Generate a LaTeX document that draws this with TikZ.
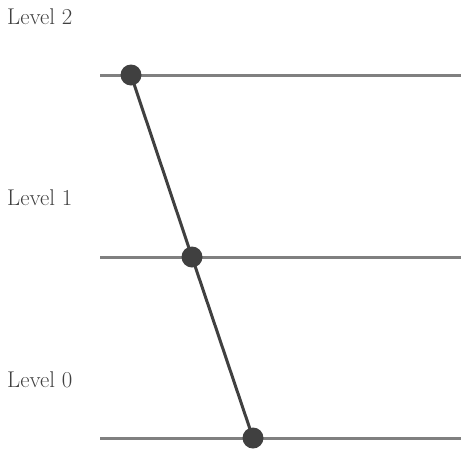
\documentclass[tikz,border=0pt]{standalone}
\begin{document}
\begin{tikzpicture}[x=1pt,y=-1pt,
  level/.style={draw=black!50,line width=3pt},
  link/.style={draw=black!75,line width=3pt},
  dot/.style={circle,fill=black!75,inner sep=0pt,minimum size=21pt},
  lbl/.style={anchor=west,inner sep=0pt,text=black!75,font=\fontsize{22.8}{26}\selectfont}]
\useasboundingbox (0,0) rectangle (461,448);
\node[lbl] (l2) at (7,17) {Level 2};
\node[lbl] (l1) at (7,198) {Level 1};
\node[lbl] (l0) at (7,380) {Level 0};
\coordinate (a2) at (100,75); \coordinate (b2) at (461,75);
\coordinate (a1) at (100,257); \coordinate (b1) at (461,257);
\coordinate (a0) at (100,438); \coordinate (b0) at (461,438);
\draw[level] (a2) -- (b2);
\draw[level] (a1) -- (b1);
\draw[level] (a0) -- (b0);
\coordinate (c2) at (131,75);
\coordinate (c1) at (192,257);
\coordinate (c0) at (253,438);
\draw[link] (c2) -- (c1) -- (c0);
\node[dot] (d2) at (c2) {};
\node[dot] (d1) at (c1) {};
\node[dot] (d0) at (c0) {};
\end{tikzpicture}
\end{document}
